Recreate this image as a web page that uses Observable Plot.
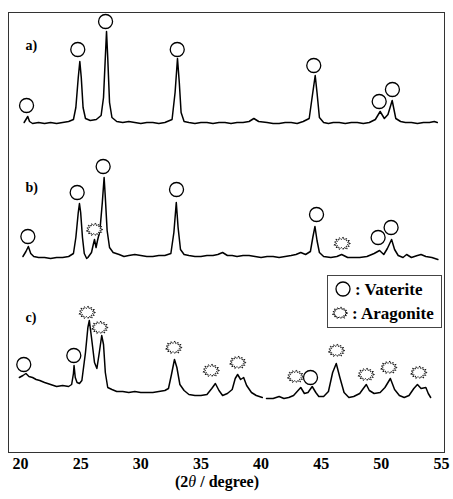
<!DOCTYPE html>
<html>
<head>
<meta charset="utf-8">
<script src="https://cdn.jsdelivr.net/npm/d3@7"></script>
<script src="https://cdn.jsdelivr.net/npm/@observablehq/plot@0.6"></script>
<style>
  html, body { margin: 0; padding: 0; background: #fff; }
  #chart svg { display: block; }
</style>
</head>
<body>
<div id="chart"></div>
<script>
// ---- data: 2θ (degree) and intensity (a.u., traces offset vertically) ----
const traceA = [
  [20.3,330],[20.5,334],[20.6,336],[20.75,331],[21.0,329],[21.5,330],[22.0,329],[22.5,330],[23.0,329],[23.5,330],
  [24.0,331],[24.4,333],[24.6,345],[24.8,375],[24.93,391],[25.05,375],[25.2,345],[25.4,334],[25.8,332],[26.3,333],
  [26.7,337],[26.9,355],[27.05,395],[27.15,421],[27.25,395],[27.4,350],[27.6,335],[28.0,331],[28.5,330],[29.0,331],
  [29.5,330],[30.0,329],[30.5,330],[31.0,330],[31.5,329],[32.0,330],[32.6,333],[32.85,360],[33.05,394],[33.2,370],
  [33.35,340],[33.6,331],[34.0,330],[34.5,329],[35.0,330],[35.5,330],[36.0,329],[36.5,330],[37.0,330],[37.5,329],
  [38.0,330],[38.5,330],[39.0,331],[39.4,334],[39.8,331],[40.5,330],[41.0,329],[41.5,329],[42.0,330],[42.5,330],
  [43.0,329],[43.5,331],[44.0,334],[44.3,360],[44.5,377],[44.65,360],[44.85,335],[45.2,330],[45.6,329],[46.0,330],
  [46.5,330],[47.0,329],[47.5,330],[48.0,330],[48.5,329],[49.0,330],[49.5,333],[49.9,341],[50.25,334],[50.55,338],
  [50.9,352],[51.2,334],[51.6,331],[52.0,330],[52.5,330],[53.0,329],[53.5,330],[54.0,330],[54.4,331],[54.65,330]
];
const traceB = [
  [20.2,196],[20.45,201],[20.65,206],[20.85,199],[21.1,196],[21.5,195],[22.0,195],[22.5,194],[23.0,195],[23.5,195],
  [24.0,196],[24.4,199],[24.6,215],[24.8,240],[24.9,249],[25.0,240],[25.15,215],[25.3,199],[25.5,194],[25.6,195],
  [25.9,200],[26.05,208],[26.15,213],[26.28,205],[26.4,212],[26.6,222],[26.8,250],[26.95,275],[27.05,255],[27.2,222],
  [27.4,205],[27.7,200],[28.2,198],[28.6,196],[29.0,197],[29.5,198],[30.0,197],[30.5,196],[31.0,196],[31.5,197],
  [32.0,197],[32.5,199],[32.75,220],[32.95,250],[33.1,225],[33.3,203],[33.6,198],[34.0,197],[34.5,196],[35.0,196],
  [35.5,197],[36.0,197],[36.4,198],[36.8,200],[37.2,197],[37.6,197],[38.0,196],[38.5,197],[39.0,197],[39.5,196],
  [40.0,195],[40.5,196],[41.0,196],[41.5,195],[42.0,196],[42.5,197],[42.9,198],[43.3,200],[43.7,198],[44.1,201],
  [44.3,215],[44.48,226],[44.65,212],[44.85,200],[45.2,196],[45.8,195],[46.3,196],[46.7,198],[47.2,195],[47.7,195],
  [48.2,195],[48.8,196],[49.4,199],[49.85,202],[50.2,198],[50.5,204],[50.85,213],[51.1,203],[51.4,197],[51.8,195],
  [52.1,198],[52.5,195],[53.0,197],[53.3,198],[53.7,196],[54.2,195],[54.7,193]
];
const traceC = [
  [19.9,75],[20.2,77],[20.45,79],[20.7,76],[21.0,75],[21.3,73],[21.6,72],[22.0,70],[22.5,68],[23.0,66],
  [23.5,67],[24.0,66],[24.25,68],[24.4,79],[24.45,87],[24.55,75],[24.7,70],[24.9,69],[25.1,72],[25.4,100],
  [25.6,125],[25.72,132],[25.9,115],[26.15,90],[26.35,84],[26.55,100],[26.75,117],[26.9,108],[27.05,80],[27.25,65],
  [27.6,63],[28.0,61],[28.5,61],[29.0,60],[29.5,61],[30.0,60],[30.5,60],[31.0,60],[31.5,61],[32.0,62],
  [32.3,64],[32.55,78],[32.8,93],[33.0,85],[33.25,68],[33.6,62],[34.0,58],[34.5,57],[35.0,57],[35.5,58],
  [35.9,64],[36.2,69],[36.5,62],[36.8,57],[37.2,59],[37.6,63],[37.85,74],[38.05,78],[38.3,73],[38.55,75],
  [38.8,67],[39.2,60],[39.6,57],[40.1,55],[40.3,null],[40.45,54],[41.0,54],[41.5,56],[41.9,54],[42.3,55],
  [42.7,57],[43.0,61],[43.3,65],[43.6,59],[43.9,60],[44.25,66],[44.55,60],[44.8,56],[45.2,56],[45.6,61],
  [45.95,80],[46.25,89],[46.55,75],[46.9,60],[47.3,55],[47.7,56],[48.2,59],[48.5,64],[48.75,68],[49.0,62],
  [49.4,59],[49.9,60],[50.3,65],[50.75,74],[51.1,63],[51.5,57],[51.9,55],[52.3,57],[52.7,64],[53.0,68],
  [53.3,64],[53.7,65],[53.9,59],[54.1,55]
];
// phase markers placed above the peaks: [2θ, intensity]
const vateriteMarks = [
  [20.50,347],[24.76,403],[27.07,431],[33.03,403],[44.38,387],[49.82,351],[50.92,363],
  [20.61,216],[24.71,260],[26.87,286],[32.97,263],[44.61,238],[49.73,215],[50.81,225],
  [20.27,88],[24.43,97],[44.11,75]
];
const aragoniteMarks = [
  [26.15,223],[46.74,209],
  [25.54,140],[26.59,125],[32.74,105],[35.85,82],[38.06,90],[42.86,76],[46.27,102],[48.74,78],[50.62,85],[53.11,80]
];
const panelLabels = [["a)",20.42,407],["b)",20.42,265],["c)",20.42,135]];
const xTicks = [20,25,30,35,40,45,50,55];
const legendItems = ["Vaterite","Aragonite"];

// ---- spiky "aragonite" symbol ----
const spikeR = [1.0,0.66,0.95,0.64,1.05,0.68,0.92,0.64,1.0,0.69,0.97,0.64,1.02,0.67,0.93,0.65,1.0,0.68,0.96,0.64,1.03,0.66,0.94,0.67,0.99,0.65];
const starSymbol = {
  draw(ctx, size) {
    const r = Math.sqrt(size / Math.PI);
    const n = spikeR.length;
    for (let i = 0; i < n; i++) {
      const a = (i / n) * 2 * Math.PI;
      const x = Math.cos(a) * r * spikeR[i] * 1.12;
      const y = Math.sin(a) * r * spikeR[i] * 0.85;
      if (i === 0) ctx.moveTo(x, y); else ctx.lineTo(x, y);
    }
    ctx.closePath();
  }
};

const toRows = (arr, name) => arr.map(([x, y]) => ({x, y, name}));
const font = "'Liberation Serif', 'Times New Roman', serif";

const plot = Plot.plot({
  width: 453,
  height: 499,
  marginLeft: 8,
  marginRight: 9,
  marginTop: 12,
  marginBottom: 47,
  style: {fontFamily: font, background: "#fff"},
  x: {domain: [19.0, 55.25], ticks: xTicks, tickSize: 0, tickPadding: 5, label: null},
  y: {domain: [0, 440], axis: null},
  marks: [
    Plot.frame({stroke: "#333", strokeWidth: 1}),
    Plot.line(toRows(traceA, "a"), {x: "x", y: "y", stroke: "#000", strokeWidth: 1.5, curve: "linear"}),
    Plot.line(toRows(traceB, "b"), {x: "x", y: "y", stroke: "#000", strokeWidth: 1.5, curve: "linear"}),
    Plot.line(toRows(traceC, "c"), {x: "x", y: "y", stroke: "#000", strokeWidth: 1.5, curve: "linear"}),
    Plot.dot(toRows(vateriteMarks, "v"), {x: "x", y: "y", r: 7, stroke: "#000", strokeWidth: 1.3, fill: "#fff"}),
    Plot.dot(toRows(aragoniteMarks, "ar"), {x: "x", y: "y", r: 7.5, symbol: starSymbol, stroke: "#111", strokeWidth: 1, strokeDasharray: "2,0.6", fill: "#fff"}),
    Plot.text(panelLabels, {x: d => d[1], y: d => d[2], text: d => d[0], textAnchor: "start", fontSize: 14, fontWeight: "bold", fill: "#000"}),
    Plot.axisX({ticks: xTicks, tickSize: 0, tickPadding: 5, fontSize: 16, fontWeight: "bold", label: null})
  ]
});

document.getElementById("chart").appendChild(plot);
const svg = d3.select(plot);
svg.selectAll("[aria-label='x-axis tick label'] text").attr("fill", "#000");

// axis title
const t = svg.append("text")
  .attr("x", 217).attr("y", 487)
  .attr("text-anchor", "middle")
  .attr("font-family", font).attr("font-size", 16).attr("font-weight", "bold").attr("fill", "#000");
t.append("tspan").text("(2");
t.append("tspan").attr("font-style", "italic").attr("font-weight", "normal").text("θ");
t.append("tspan").text(" / degree)");

// legend
const lg = svg.append("g").attr("text-anchor", "start");
lg.append("rect").attr("x", 327.5).attr("y", 275.5).attr("width", 114).attr("height", 52)
  .attr("fill", "#fff").attr("stroke", "#444").attr("stroke-width", 1);
lg.append("circle").attr("cx", 343).attr("cy", 289).attr("r", 7)
  .attr("fill", "#fff").attr("stroke", "#000").attr("stroke-width", 1.3);
lg.append("path").attr("transform", "translate(340,313)")
  .attr("d", d3.symbol(starSymbol, Math.PI * 7 * 7)())
  .attr("fill", "#fff").attr("stroke", "#111").attr("stroke-width", 1).attr("stroke-dasharray", "2,0.6");
lg.append("text").attr("x", 355).attr("y", 295).attr("text-anchor", "start").attr("font-family", font).attr("font-size", 17)
  .attr("font-weight", "bold").attr("fill", "#000").text(": " + legendItems[0]);
lg.append("text").attr("x", 352).attr("y", 319).attr("text-anchor", "start").attr("font-family", font).attr("font-size", 17)
  .attr("font-weight", "bold").attr("fill", "#000").text(": " + legendItems[1]);
</script>
</body>
</html>
